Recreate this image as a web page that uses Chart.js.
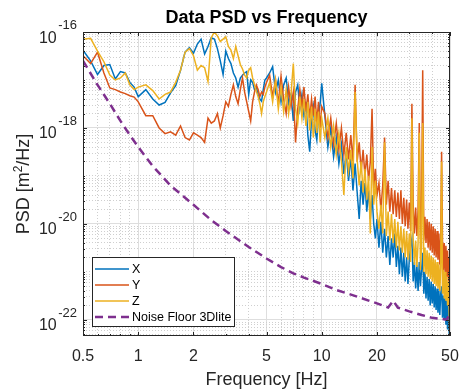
<!DOCTYPE html>
<html>
<head>
<meta charset="utf-8">
<title>Data PSD vs Frequency</title>
<script src="https://cdn.jsdelivr.net/npm/chart.js@4.4.1/dist/chart.umd.min.js"></script>
<style>
  html, body { margin: 0; padding: 0; background: #fff; }
  #wrap { width: 460px; height: 389px; }
</style>
</head>
<body>
<div id="wrap"><canvas id="psdChart" width="460" height="389"></canvas></div>
<script>
// frequency bins [Hz]
const freq = [
  0.5, 0.55, 0.6, 0.65, 0.7, 0.75, 0.8, 0.85, 0.9, 0.95, 1.0,
  1.1, 1.2, 1.3, 1.4, 1.5, 1.6, 1.7, 1.8, 1.9, 2.0,
  2.1, 2.2, 2.3, 2.4, 2.5, 2.6, 2.7, 2.8, 2.9, 3.0,
  3.1, 3.2, 3.3, 3.4, 3.5, 3.6, 3.7, 3.8, 3.9, 4.0,
  4.1, 4.2, 4.3, 4.4, 4.5, 4.6, 4.7, 4.8, 4.9, 5.0,
  5.2, 5.4, 5.6, 5.8, 6.0, 6.2, 6.4, 6.6, 6.8, 7.0,
  7.2, 7.4, 7.6, 7.8, 8.0, 8.2, 8.4, 8.6, 8.8, 9.0,
  9.2, 9.4, 9.6, 9.8, 10.0,
  10.4, 10.8, 11.2, 11.6, 12.0, 12.4, 12.8, 13.2, 13.6, 14.0,
  14.4, 14.8, 15.2, 15.6, 16.0, 16.4, 16.8, 17.2, 17.6, 18.0,
  18.4, 18.8, 19.2, 19.6, 20.0,
  20.5, 21, 21.5, 22, 22.5, 23, 23.5, 24, 24.5, 25,
  25.5, 26, 26.5, 27, 27.5, 28, 28.5, 29, 29.5, 30,
  30.5, 31, 31.5, 32, 32.5, 33, 33.5, 34, 34.5, 35,
  35.5, 36, 36.5, 37, 37.5, 38, 38.5, 39, 39.5, 40,
  40.5, 41, 41.5, 42, 42.5, 43, 43.5, 44, 44.5, 45,
  45.5, 46, 46.5, 47, 47.5, 48, 48.5, 49, 49.5, 50
];

// PSD [m^2/Hz]
const psdX = [
  4.2e-17, 2.5e-17, 1.3e-17, 2.0e-17, 2.1e-17, 1.05e-17, 1.5e-17, 1.4e-17, 8.9e-18, 7.1e-18, 4.5e-18,
  6.3e-18, 4.0e-18, 3.0e-18, 3.4e-18, 5.4e-18, 7.6e-18, 1.6e-17, 3.8e-17, 4.7e-17, 3.6e-17,
  5.6e-17, 7.1e-17, 3.5e-17, 5.0e-17, 7.6e-17, 7.1e-17, 4.5e-17, 2.5e-17, 1.3e-17, 4.0e-17,
  2.8e-17, 2.2e-17, 1.4e-17, 1.1e-17, 7.1e-18, 1.1e-17, 1.26e-17, 1.4e-17, 1.5e-17, 5.0e-18,
  1.0e-17, 8.9e-18, 6.3e-18, 7.1e-18, 5.0e-18, 4.0e-18, 3.6e-18, 6.3e-18, 1.0e-17, 1.1e-17,
  1.4e-17, 1.9e-17, 5.6e-18, 1.0e-17, 3.5e-18, 7.9e-18, 1.1e-17, 3.2e-18, 5.0e-18, 1.4e-18,
  5.6e-18, 7.9e-18, 2.5e-18, 5.0e-18, 1.8e-18, 3.5e-18, 7.1e-19, 3.2e-19, 1.6e-18, 2.8e-18,
  8.9e-19, 5.6e-19, 1.8e-18, 3.2e-18, 8.5e-18,
  1.8e-18, 4.0e-19, 1.0e-18, 2.5e-19, 6.3e-19, 1.8e-19, 4.5e-19, 1.1e-19, 3.2e-19, 7.9e-20,
  2.5e-19, 5.0e-20, 1.8e-19, 4.5e-20, 1.26e-20, 7.9e-20, 2.5e-20, 7.1e-20, 1.8e-20, 5.0e-20,
  1.26e-20, 4.0e-20, 1.0e-20, 5.0e-21, 1.26e-20,
  3.2e-21, 1.1e-20, 2.5e-21, 7.9e-21, 2.0e-21, 5.6e-21, 1.4e-21, 5.0e-21, 2.0e-21, 6.3e-21,
  1.26e-21, 3.5e-21, 8.9e-22, 3.2e-21, 7.9e-22, 2.5e-21, 6.3e-22, 2.0e-21, 5.6e-22, 1.8e-21,
  3.5e-21, 5.0e-21, 6.3e-22, 1.6e-21, 4.5e-22, 1.4e-21, 4.0e-22, 1.6e-21, 5.0e-22, 1.1e-21,
  2.5e-21, 3.5e-22, 1.0e-21, 2.8e-22, 7.9e-22, 2.5e-22, 7.1e-22, 2.0e-22, 6.3e-22, 2.2e-22,
  5.6e-22, 1.8e-22, 5.0e-22, 1.6e-22, 4.5e-22, 1.4e-22, 4.0e-22, 1.26e-22, 3.5e-22, 5.0e-22,
  1.1e-22, 3.2e-22, 1.0e-22, 2.8e-22, 7.9e-23, 2.5e-22, 6.3e-23, 2.0e-22, 5.0e-23, 2.5e-23
];

const psdY = [
  3.2e-17, 2.2e-17, 3.8e-17, 1.4e-17, 6.8e-18, 6.3e-18, 5.6e-18, 5.2e-18, 4.7e-18, 4.4e-18, 3.5e-18,
  1.8e-18, 1.8e-18, 1.0e-18, 7.6e-19, 8.3e-19, 7.1e-19, 1.1e-18, 6.3e-19, 5.6e-19, 7.9e-19,
  7.1e-19, 6.3e-19, 5.0e-19, 1.6e-18, 1.26e-18, 1.4e-18, 2.0e-18, 1.0e-18, 1.8e-18, 3.5e-18,
  2.8e-18, 5.0e-18, 7.9e-18, 4.5e-18, 3.2e-18, 6.3e-18, 1.1e-17, 5.6e-18, 3.5e-18, 2.2e-18,
  1.4e-18, 3.5e-18, 5.6e-18, 7.9e-18, 6.3e-18, 4.5e-18, 5.6e-18, 5.0e-18, 7.1e-18, 8.9e-18,
  1.26e-17, 4.5e-18, 1.0e-17, 3.2e-18, 1.2e-17, 4.0e-18, 2.0e-18, 7.1e-18, 2.8e-18, 5.6e-18,
  5.0e-19, 2.5e-18, 6.3e-18, 2.8e-18, 7.1e-18, 2.2e-18, 5.0e-18, 1.6e-18, 4.0e-18, 1.8e-18,
  4.5e-18, 1.26e-18, 3.5e-18, 1.0e-18, 2.8e-18,
  2.0e-18, 6.3e-19, 1.6e-18, 4.5e-19, 1.26e-18, 3.5e-19, 1.0e-18, 2.8e-19, 7.9e-19, 2.2e-19,
  7.1e-19, 2.0e-19, 7.9e-18, 2.0e-19, 5.0e-19, 1.26e-19, 3.5e-19, 1.0e-19, 2.8e-19, 7.9e-20,
  2.0e-19, 2.5e-18, 5.6e-20, 1.4e-19, 4.0e-20,
  7.1e-20, 2.0e-20, 6.3e-20, 6.3e-19, 2.5e-20, 7.9e-20, 1.8e-20, 5.6e-20, 1.6e-20, 5.0e-20,
  1.4e-20, 4.5e-20, 1.26e-20, 5.0e-20, 1.0e-20, 3.5e-20, 8.9e-21, 3.2e-20, 7.9e-21, 2.8e-20,
  7.1e-21, 3.2e-18, 2.5e-20, 6.3e-21, 2.2e-20, 5.6e-21, 2.0e-20, 1.26e-18, 5.0e-21, 1.8e-20,
  1.6e-17, 4.5e-21, 1.4e-20, 4.0e-21, 1.26e-20, 3.2e-21, 1.1e-20, 2.8e-21, 1.0e-20, 2.5e-21,
  8.9e-21, 2.2e-21, 7.9e-21, 2.0e-21, 7.1e-21, 1.8e-21, 6.3e-21, 1.4e-21, 5.0e-21, 3.2e-19,
  4.5e-21, 1.1e-21, 4.0e-21, 1.0e-21, 3.5e-21, 7.9e-22, 2.8e-21, 6.3e-22, 2.0e-21, 1.0e-22
];

const psdZ = [
  7.1e-17, 7.4e-17, 4.0e-17, 2.4e-17, 1.26e-17, 1.0e-17, 1.1e-17, 1.4e-17, 7.9e-18, 6.3e-18, 7.1e-18,
  7.9e-18, 6.0e-18, 4.0e-18, 5.0e-18, 5.6e-18, 8.9e-18, 1.6e-17, 3.8e-17, 4.5e-17, 3.2e-17,
  1.6e-17, 2.0e-17, 1.8e-17, 9.3e-18, 7.6e-17, 1.0e-16, 8.3e-17, 6.3e-17, 7.1e-17, 7.9e-17,
  5.0e-17, 4.2e-17, 2.8e-17, 5.0e-17, 3.2e-17, 2.1e-17, 1.7e-17, 1.26e-17, 1.1e-17, 1.6e-17,
  1.8e-17, 1.1e-17, 7.9e-18, 5.8e-18, 4.5e-18, 3.2e-18, 2.0e-18, 3.5e-18, 4.5e-18, 5.6e-18,
  8.9e-18, 3.5e-18, 1.0e-17, 2.5e-18, 7.1e-18, 2.2e-18, 6.3e-18, 2.0e-18, 5.0e-18, 2.2e-17,
  2.5e-18, 1.26e-18, 4.5e-18, 1.6e-18, 4.0e-18, 1.1e-18, 3.5e-18, 8.9e-19, 2.8e-18, 6.3e-19,
  2.5e-18, 7.9e-19, 2.2e-18, 5.0e-19, 1.6e-18,
  6.3e-19, 1.6e-18, 4.0e-19, 1.1e-18, 2.8e-19, 7.9e-19, 2.0e-19, 4.0e-20, 4.0e-19, 1.26e-19,
  3.5e-19, 8.9e-20, 5.6e-18, 2.2e-19, 6.3e-20, 2.0e-19, 4.5e-20, 1.4e-19, 3.2e-20, 1.0e-19,
  6.3e-21, 4.0e-19, 2.5e-20, 7.9e-20, 1.8e-20,
  7.9e-21, 2.5e-20, 6.3e-21, 5.0e-19, 5.6e-21, 1.8e-20, 4.5e-21, 1.6e-20, 4.0e-21, 1.26e-20,
  3.2e-21, 1.1e-20, 2.8e-21, 8.9e-21, 2.5e-21, 7.9e-21, 2.0e-21, 7.1e-21, 1.8e-21, 6.3e-21,
  1.6e-21, 1.6e-18, 5.0e-21, 1.4e-21, 4.5e-21, 1.26e-21, 4.0e-21, 7.9e-19, 1.1e-21, 3.5e-21,
  1.26e-18, 1.0e-21, 3.2e-21, 8.9e-22, 2.8e-21, 7.9e-22, 2.5e-21, 7.1e-22, 2.2e-21, 6.3e-22,
  2.0e-21, 5.6e-22, 1.8e-21, 5.0e-22, 1.6e-21, 4.5e-22, 1.4e-21, 4.0e-22, 1.26e-21, 2.0e-19,
  3.5e-22, 1.1e-21, 2.8e-22, 1.0e-21, 2.5e-22, 7.9e-22, 2.0e-22, 6.3e-22, 1.26e-22, 4.0e-23
];

// sensor noise floor
const noiseFreq = [0.5, 0.6, 0.7, 0.8, 0.9, 1, 1.2, 1.5, 2, 2.5, 3, 4, 5, 6, 7, 8, 10, 12, 15, 20,
  23, 24.5, 26, 30, 35, 40, 45, 48, 50];
const noiseFloor = [2.5e-17, 7.9e-18, 3.2e-18, 1.4e-18, 7.1e-19, 4.0e-19, 1.6e-19, 6.3e-20, 2.5e-20,
  1.2e-20, 7.1e-21, 3.3e-21, 1.9e-21, 1.26e-21, 9.3e-22, 7.6e-22, 5.6e-22, 4.2e-22, 3.2e-22, 2.2e-22,
  1.8e-22, 2.5e-22, 1.8e-22, 1.5e-22, 1.26e-22, 1.1e-22, 1.05e-22, 1.0e-22, 1.4e-22];

const seriesLabels = ['X', 'Y', 'Z', 'Noise Floor 3Dlite'];

// axes
const xMajor = [0.5, 1, 2, 5, 10, 20, 50];
const xTickLabels = ['0.5', '1', '2', '5', '10', '20', '50'];
const xMinor = [0.6, 0.7, 0.8, 0.9, 3, 4, 6, 7, 8, 9, 30, 40];
const yMajor = [1e-22, 1e-20, 1e-18, 1e-16];
const yExponents = ['-22', '-20', '-18', '-16'];
const yDecades = [-23, -22, -21, -20, -19, -18, -17, -16];
const yMultipliers = [1, 2, 3, 4, 5, 6, 7, 8, 9];
const xMin = 0.5, xMax = 50;
const yMin = 4.6e-23, yMax = 1e-16;

const xGridTicks = xMajor.concat(xMinor).sort((a, b) => a - b);
const yGridTicks = [];
yDecades.forEach(d => yMultipliers.forEach(m => {
  const v = m * Math.pow(10, d);
  if (v >= yMin * 0.999 && v <= yMax * 1.001) yGridTicks.push(v);
}));

const isMajorX = v => xMajor.some(m => Math.abs(m - v) < 1e-9);
const isMajorY = v => yMajor.some(m => Math.abs(v / m - 1) < 1e-6);

const FONT = "'Liberation Sans', Arial, Helvetica, sans-serif";
const AXIS_COLOR = '#262626';

function toPoints(xs, ys) {
  return xs.map((f, i) => ({ x: f, y: ys[i] }));
}

// MATLAB-like axes box, tick marks, labels, title and legend
const matlabLook = {
  id: 'matlabLook',
  afterDraw(chart) {
    const { ctx, chartArea: a, scales } = chart;
    const xs = scales.x, ys = scales.y;
    ctx.save();

    ctx.strokeStyle = AXIS_COLOR;
    ctx.lineWidth = 1;
    ctx.beginPath();
    xGridTicks.forEach(v => {
      const px = Math.round(xs.getPixelForValue(v)) + 0.5;
      const len = isMajorX(v) ? 4 : 2;
      ctx.moveTo(px, a.bottom); ctx.lineTo(px, a.bottom - len);
      ctx.moveTo(px, a.top); ctx.lineTo(px, a.top + len);
    });
    yGridTicks.forEach(v => {
      const py = Math.round(ys.getPixelForValue(v)) + 0.5;
      const len = isMajorY(v) ? 4 : 2;
      ctx.moveTo(a.left, py); ctx.lineTo(a.left + len, py);
      ctx.moveTo(a.right, py); ctx.lineTo(a.right - len, py);
    });
    ctx.stroke();
    ctx.strokeRect(Math.round(a.left) + 0.5, Math.round(a.top) + 0.5,
      Math.round(a.right - a.left) - 1, Math.round(a.bottom - a.top) - 1);

    // x tick labels
    ctx.fillStyle = AXIS_COLOR;
    ctx.font = '16px ' + FONT;
    ctx.textAlign = 'center';
    ctx.textBaseline = 'alphabetic';
    xMajor.forEach((v, i) => ctx.fillText(xTickLabels[i], xs.getPixelForValue(v), a.bottom + 25));

    // y tick labels 10^n
    const xr = a.left - 6;
    yMajor.forEach((v, i) => {
      const py = ys.getPixelForValue(v);
      ctx.font = '13px ' + FONT;
      const ew = ctx.measureText(yExponents[i]).width;
      ctx.textAlign = 'left';
      ctx.fillText(yExponents[i], xr - ew, py - 3);
      ctx.font = '16px ' + FONT;
      ctx.textAlign = 'right';
      ctx.fillText('10', xr - ew - 1.5, py + 10.5);
    });

    // axis titles
    ctx.font = '18px ' + FONT;
    ctx.textAlign = 'center';
    ctx.fillText('Frequency [Hz]', (a.left + a.right) / 2, a.bottom + 49);

    const parts = [
      { t: 'PSD [m', size: 18, dy: 0 },
      { t: '2', size: 12, dy: -7 },
      { t: '/Hz]', size: 18, dy: 0 }
    ];
    let total = 0;
    parts.forEach(p => { ctx.font = p.size + 'px ' + FONT; p.w = ctx.measureText(p.t).width; total += p.w; });
    ctx.save();
    ctx.translate(29, (a.top + a.bottom) / 2);
    ctx.rotate(-Math.PI / 2);
    ctx.textAlign = 'left';
    let cx = -total / 2;
    parts.forEach(p => {
      ctx.font = p.size + 'px ' + FONT;
      ctx.fillText(p.t, cx, p.dy);
      cx += p.w;
    });
    ctx.restore();

    // title
    ctx.fillStyle = '#000';
    ctx.font = 'bold 18px ' + FONT;
    ctx.textAlign = 'center';
    ctx.fillText('Data PSD vs Frequency', (a.left + a.right) / 2, 23);

    // legend inside the axes, lower left
    const lx = Math.round(a.left) + 9, ly = Math.round(a.bottom) - 79, lw = 142, lh = 69;
    ctx.fillStyle = '#fff';
    ctx.fillRect(lx, ly, lw, lh);
    ctx.strokeStyle = AXIS_COLOR;
    ctx.lineWidth = 1;
    ctx.setLineDash([]);
    ctx.strokeRect(lx + 0.5, ly + 0.5, lw, lh);
    ctx.font = '12.5px ' + FONT;
    ctx.textAlign = 'left';
    ctx.textBaseline = 'middle';
    chart.data.datasets.forEach((ds, i) => {
      const ry = ly + 12 + i * 16;
      ctx.strokeStyle = ds.borderColor;
      ctx.lineWidth = ds.borderWidth;
      ctx.setLineDash(ds.borderDash || []);
      ctx.beginPath();
      ctx.moveTo(lx + 3, ry);
      ctx.lineTo(lx + 37, ry);
      ctx.stroke();
      ctx.setLineDash([]);
      ctx.fillStyle = '#000';
      ctx.fillText(ds.label, lx + 40, ry + 0.5);
    });
    ctx.restore();
  }
};

const gridScale = (min, max, majorFn, ticks) => ({
  type: 'logarithmic',
  min: min,
  max: max,
  bounds: 'data',
  afterBuildTicks: s => { s.ticks = ticks.map(v => ({ value: v })); },
  ticks: { display: false },
  grid: {
    drawTicks: false,
    lineWidth: 1,
    color: c => (c.tick && majorFn(c.tick.value)) ? '#dedede' : '#cfcfcf'
  },
  border: {
    display: false,
    dash: c => (c.tick && majorFn(c.tick.value)) ? [] : [1, 2]
  },
  title: { display: false }
});

const config = {
  type: 'line',
  data: {
    datasets: [
      { label: seriesLabels[0], data: toPoints(freq, psdX), borderColor: '#0072BD', borderWidth: 1.5, pointRadius: 0, order: 4 },
      { label: seriesLabels[1], data: toPoints(freq, psdY), borderColor: '#D95319', borderWidth: 1.5, pointRadius: 0, order: 3 },
      { label: seriesLabels[2], data: toPoints(freq, psdZ), borderColor: '#EDB120', borderWidth: 1.5, pointRadius: 0, order: 2 },
      { label: seriesLabels[3], data: toPoints(noiseFreq, noiseFloor), borderColor: '#7E2F8E', borderWidth: 2.5, borderDash: [8, 5], pointRadius: 0, order: 1 }
    ]
  },
  options: {
    responsive: false,
    animation: false,
    devicePixelRatio: 1,
    layout: { padding: { left: 83, top: 32, right: 10, bottom: 53 } },
    plugins: {
      legend: { display: false },
      title: { display: false },
      tooltip: { enabled: false }
    },
    scales: {
      x: gridScale(xMin, xMax, isMajorX, xGridTicks),
      y: gridScale(yMin, yMax, isMajorY, yGridTicks)
    }
  },
  plugins: [matlabLook]
};

const psdChart = new Chart(document.getElementById('psdChart'), config);
</script>
</body>
</html>
